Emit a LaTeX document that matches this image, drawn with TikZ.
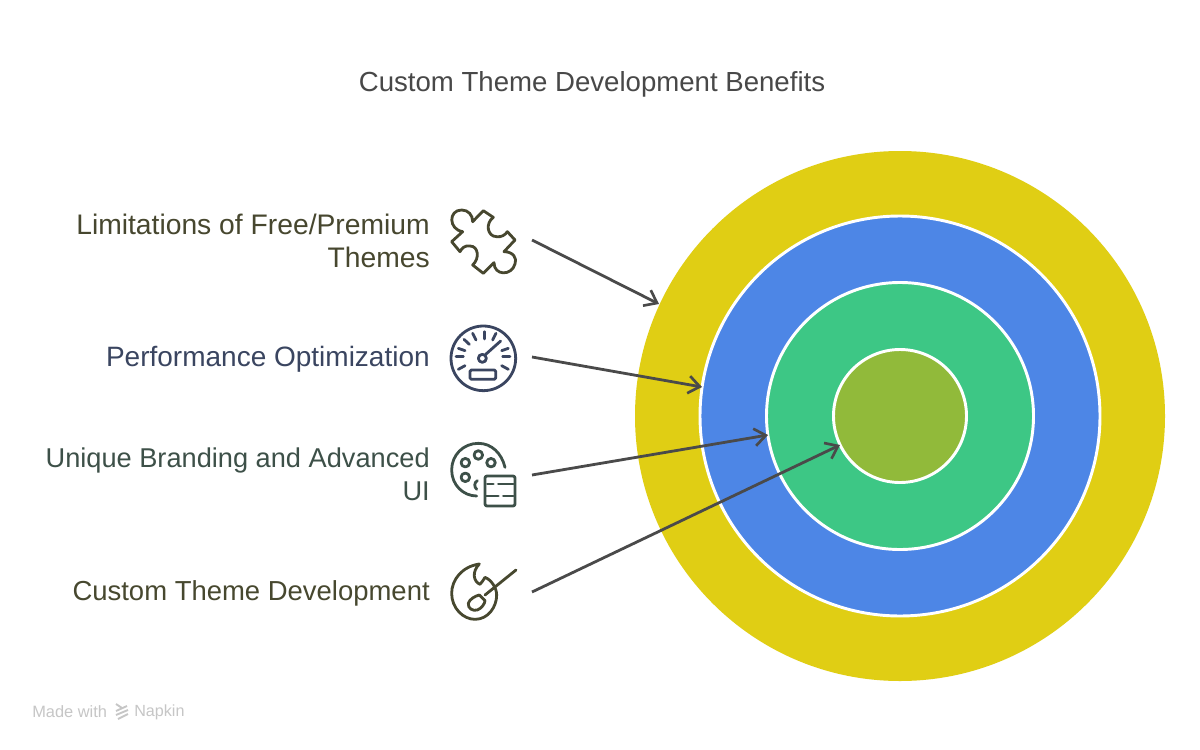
\documentclass[tikz,border=0pt]{standalone}
\usepackage{fontspec}
\setmainfont{Liberation Sans}
\usetikzlibrary{arrows.meta}
\definecolor{cyel}{HTML}{E0CE14}
\definecolor{cblu}{HTML}{4D86E6}
\definecolor{cgrn}{HTML}{3DC785}
\definecolor{coli}{HTML}{91BA3A}
\definecolor{tone}{HTML}{47472F}
\definecolor{ttwo}{HTML}{3A4560}
\definecolor{tthr}{HTML}{3D5048}
\definecolor{tfou}{HTML}{47482F}
\definecolor{ttit}{HTML}{484848}
\definecolor{carr}{HTML}{4A4A4A}
\definecolor{cmark}{HTML}{C6C6C6}
\tikzset{
  ring/.style={circle,draw=white,line width=2.2pt,inner sep=0pt,minimum size=#1*0.75pt},
  label/.style={anchor=east,align=right,inner sep=0pt,font=\fontsize{#1}{25}\selectfont},
  arr/.style={draw=carr,line width=2.1pt,-{Straight Barb[length=8.5pt,width=13pt,line width=2pt]}},
  icon/.style={line width=2.1pt,line cap=round,line join=round}
}
\begin{document}
\begin{tikzpicture}[x=0.75pt,y=-0.75pt]
\useasboundingbox (0,0) rectangle (1200,750);
\fill[white] (0,0) rectangle (1200,750);
\node[anchor=center,text=ttit,font=\fontsize{20.7}{24}\selectfont] (title) at (592,84) {Custom Theme Development Benefits};
\node[circle,fill=cyel,inner sep=0pt,minimum size=530*0.75pt] (r1) at (900,416) {};
\node[ring=400,fill=cblu] (r2) at (900,416) {};
\node[ring=267,fill=cgrn] (r3) at (900,416) {};
\node[ring=133,fill=coli] (r4) at (900,416) {};
\node[label=21.2,text=tone] (l1) at (430,241) {Limitations of Free/Premium\\Themes};
\node[label=21,text=ttwo] (l2) at (430,359.5) {Performance Optimization};
\node[label=20.4,text=tthr] (l3) at (430,474) {Unique Branding and Advanced\\UI};
\node[label=20.6,text=tfou] (l4) at (430,593.5) {Custom Theme Development};
\coordinate (a1s) at (532,240); \coordinate (a1e) at (659,304);
\coordinate (a2s) at (532,357); \coordinate (a2e) at (702,387);
\coordinate (a3s) at (532,475); \coordinate (a3e) at (768,435);
\coordinate (a4s) at (532,592); \coordinate (a4e) at (840,445);
\draw[arr] (a1s) -- (a1e);
\draw[arr] (a2s) -- (a2e);
\draw[arr] (a3s) -- (a3e);
\draw[arr] (a4s) -- (a4e);
% puzzle
\begin{scope}[shift={(430,190)},x=0.25pt,y=-0.25pt,icon,draw=tone]
\draw (98,125) .. controls (55,118) and (55,60) .. (95,60) .. controls (115,60) and (128,75) .. (128,95)
 -- (160,62) -- (190,82) .. controls (165,100) and (172,140) .. (200,140) .. controls (215,142) and (225,135) .. (232,125)
 -- (255,150) -- (222,185) .. controls (250,185) and (262,205) .. (255,222) .. controls (245,258) and (192,258) .. (192,218)
 -- (160,250) -- (128,225) .. controls (150,205) and (145,168) .. (120,168) .. controls (105,165) and (95,175) .. (90,185)
 -- (65,155) -- cycle;
\end{scope}
% gauge
\begin{scope}[shift={(430,310)},x=0.25pt,y=-0.25pt,icon,draw=ttwo]
\draw (160,145) circle[radius=24.25pt];
\draw (157,145) circle[radius=3pt];
\draw (166,134) -- (212,93);
\draw[rounded corners=1pt] (120,180) rectangle (197,208);
\foreach \a/\b/\c/\d in {78/140/100/140,85/115/105/122,102/88/118/103,128/70/138/90,163/65/163/87,198/70/188/90,235/115/215/122,240/140/218/140,235/178/215/167,85/178/105/167}
  \draw (\a,\b) -- (\c,\d);
\end{scope}
% palette
\begin{scope}[shift={(430,430)},x=0.25pt,y=-0.25pt,icon,draw=tthr]
\draw (225,112) .. controls (215,70) and (185,40) .. (145,40) .. controls (100,40) and (65,75) .. (65,120) .. controls (65,165) and (100,198) .. (140,198);
\foreach \p in {(145,75),(106,98),(183,98),(106,142)}
  \draw \p circle[radius=3.2pt];
\draw (142,152) .. controls (132,158) and (132,170) .. (140,178);
\draw[rounded corners=1.5pt] (165,138) rectangle (255,228);
\draw (172,162) -- (190,162);
\draw (205,162) -- (250,162);
\draw (168,198) -- (205,198);
\draw (220,198) -- (250,198);
\end{scope}
% brush
\begin{scope}[shift={(430,550)},x=0.25pt,y=-0.25pt,icon,draw=tfou]
\draw (148,42) .. controls (95,50) and (65,90) .. (65,130) .. controls (65,175) and (100,208) .. (135,208) .. controls (175,208) and (200,170) .. (200,135) .. controls (200,115) and (185,90) .. (165,82) .. controls (160,90) and (155,98) .. (150,103) .. controls (130,95) and (125,65) .. (148,42) -- cycle;
\draw (258,60) -- (165,135);
\draw (148,135) .. controls (135,138) and (118,148) .. (115,160) .. controls (113,175) and (128,184) .. (142,180) .. controls (155,175) and (165,160) .. (165,152) -- cycle;
\end{scope}
% footer
\node[anchor=west,text=cmark,font=\fontsize{12.3}{14}\selectfont,inner sep=0pt] (m1) at (32,712) {Made with};
\node[anchor=west,text=cmark,font=\fontsize{12.1}{14}\selectfont,inner sep=0pt] (m2) at (134,712) {Napkin};
\begin{scope}[draw=cmark,line width=1.4pt]
\draw (116,704) -- (122,708);
\draw (127,706) -- (116,711);
\draw (128,710) -- (116,715);
\draw (128,714) -- (118,719);
\end{scope}
\end{tikzpicture}
\end{document}
